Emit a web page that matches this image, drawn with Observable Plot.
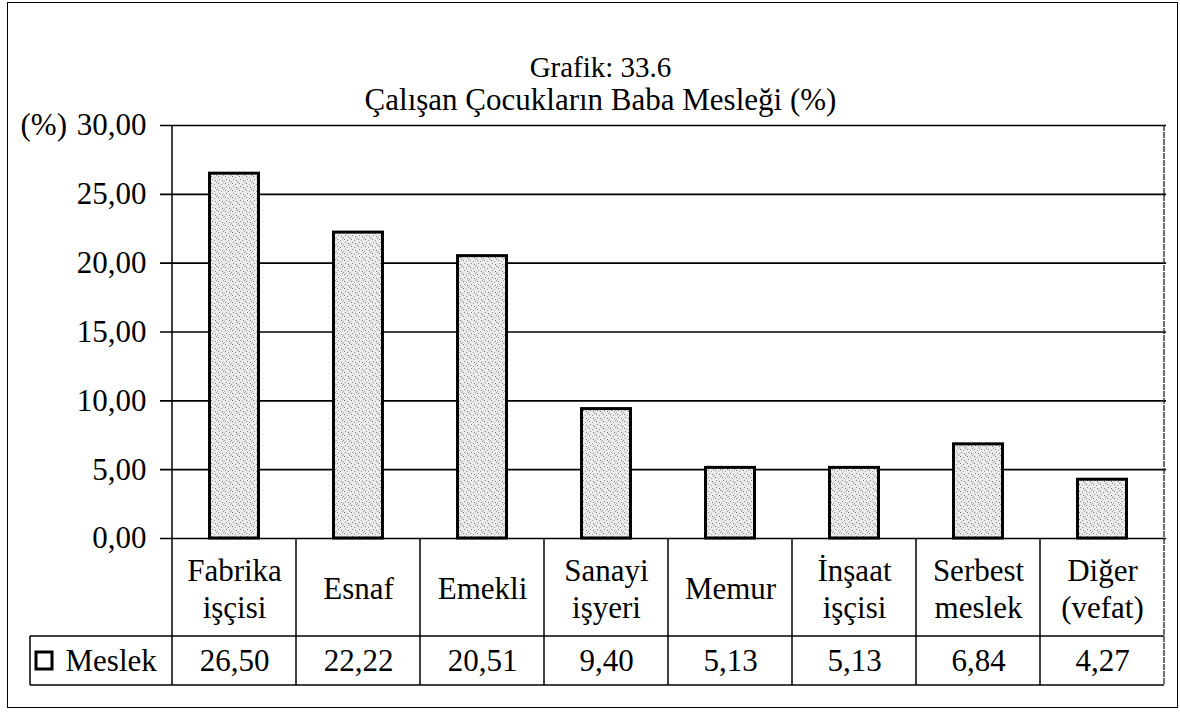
<!DOCTYPE html>
<html><head><meta charset="utf-8">
<script src="https://cdn.jsdelivr.net/npm/d3@7"></script>
<script src="https://cdn.jsdelivr.net/npm/@observablehq/plot@0.6"></script>
<style>
body{margin:0;background:#fff;}
#wrap{position:relative;width:1180px;height:712px;overflow:hidden;}
#border{position:absolute;left:7px;top:2px;width:1171px;height:706px;border:1.5px solid #000;box-sizing:border-box;pointer-events:none}
#chart svg, #chart svg text{font-family:"Liberation Serif","Times New Roman",serif !important;}
</style></head><body>
<div id="wrap"><div id="chart"></div><div id="border"></div></div>
<script>
const categories = ["Fabrika\nişçisi","Esnaf","Emekli","Sanayi\nişyeri","Memur","İnşaat\nişçisi","Serbest\nmeslek","Diğer\n(vefat)"];
const values = [26.50, 22.22, 20.51, 9.40, 5.13, 5.13, 6.84, 4.27];
const valueLabels = ["26,50","22,22","20,51","9,40","5,13","5,13","6,84","4,27"];
const yTicks = [0, 5, 10, 15, 20, 25, 30];
const seriesName = "Meslek";
const titleText = "Grafik: 33.6";
const subtitleText = "Çalışan Çocukların Baba Mesleği (%)";
const yUnit = "(%)";

const data = categories.map((c, i) => ({cat: c, value: values[i], label: valueLabels[i]}));
const fmt = v => d3.format(".2f")(v).replace(".", ",");
const FS = 31;
const FONT = "'Liberation Serif', 'Times New Roman', serif";
const ROW1 = 98, ROW2 = 49;

const defs = () => {
  const s = d3.create("svg:defs");
  const p = s.append("pattern").attr("id", "stip").attr("width", 7).attr("height", 7).attr("patternUnits", "userSpaceOnUse");
  p.append("rect").attr("width", 7).attr("height", 7).attr("fill", "#ebebeb");
  [[1,1,"#777"],[4,2,"#999"],[2,4,"#888"],[5,5,"#777"],[0,6,"#aaa"],[6,0,"#999"]].forEach(([x,y,c]) =>
    p.append("rect").attr("x", x).attr("y", y).attr("width", 1).attr("height", 1).attr("fill", c));
  return s.node();
};

const table = (index, scales) => {
  const x = scales.x, y = scales.y;
  const bw = x.bandwidth();
  const y0 = y(0);
  const left = x(categories[0]);
  const right = x(categories[categories.length - 1]) + bw;
  const g = d3.create("svg:g").attr("stroke", "#000").attr("stroke-width", 1.5).attr("fill", "none");
  const legendLeft = left - 142;
  g.append("line").attr("x1", legendLeft).attr("x2", right).attr("y1", y0 + ROW1).attr("y2", y0 + ROW1);
  g.append("line").attr("x1", legendLeft).attr("x2", right).attr("y1", y0 + ROW1 + ROW2).attr("y2", y0 + ROW1 + ROW2);
  g.append("line").attr("x1", legendLeft).attr("x2", legendLeft).attr("y1", y0 + ROW1).attr("y2", y0 + ROW1 + ROW2);
  categories.forEach(c => {
    const xe = x(c);
    g.append("line").attr("x1", xe).attr("x2", xe).attr("y1", y0).attr("y2", y0 + ROW1 + ROW2);
  });
  g.append("line").attr("x1", left).attr("x2", left).attr("y1", y(30)).attr("y2", y0);
  g.append("line").attr("x1", right).attr("x2", right).attr("y1", y(30)).attr("y2", y0 + ROW1 + ROW2)
    .attr("stroke", "#222").attr("stroke-width", 1.3).attr("stroke-dasharray", "6,1");
  // legend key
  g.append("rect").attr("x", legendLeft + 6).attr("y", y0 + ROW1 + ROW2 / 2 - 8.5).attr("width", 16).attr("height", 17)
    .attr("fill", "#fff").attr("stroke-width", 3);
  return g.node();
};

const chart = Plot.plot({
  width: 1180, height: 712,
  marginTop: 125, marginBottom: 174, marginLeft: 170, marginRight: 14,
  style: {background: "white", fontFamily: FONT, color: "#000"},
  x: {domain: categories, padding: 0, axis: null},
  y: {domain: [0, 30], axis: null},
  marks: [
    defs,
    Plot.ruleY(yTicks, {stroke: "#000", strokeWidth: 1.6, insetLeft: -10}),
    table,
    Plot.barY(data, {x: "cat", y: "value", fill: "url(#stip)", stroke: "#000", strokeWidth: 3, insetLeft: 37.5, insetRight: 37.5}),
    Plot.text(yTicks, {y: d => d, text: fmt, frameAnchor: "left", textAnchor: "end", lineAnchor: "middle", dx: -24, fontSize: FS, fontFamily: FONT, fill: "#000"}),
    Plot.text([yUnit], {frameAnchor: "top-left", textAnchor: "start", lineAnchor: "middle", dx: -150, fontSize: FS, fontFamily: FONT, fill: "#000"}),
    Plot.text([titleText], {frameAnchor: "top", lineAnchor: "middle", dx: -68, dy: -58, fontSize: FS - 2, fontFamily: FONT, fill: "#000"}),
    Plot.text([subtitleText], {frameAnchor: "top", lineAnchor: "middle", dx: -68, dy: -25, fontSize: FS, fontFamily: FONT, fill: "#000"}),
    Plot.text(data, {x: "cat", y: () => 0, text: "cat", dy: ROW1 / 2, lineAnchor: "middle", lineHeight: 1.2, fontSize: FS, fontFamily: FONT, fill: "#000"}),
    Plot.text(data, {x: "cat", y: () => 0, text: "label", dy: ROW1 + ROW2 / 2, lineAnchor: "middle", fontSize: FS, fontFamily: FONT, fill: "#000"}),
    Plot.text([seriesName], {frameAnchor: "bottom-left", textAnchor: "start", lineAnchor: "middle", dx: -105, dy: ROW1 + ROW2 / 2, fontSize: FS, fontFamily: FONT, fill: "#000"})
  ]
});
document.getElementById("chart").appendChild(chart);
</script>
</body></html>
